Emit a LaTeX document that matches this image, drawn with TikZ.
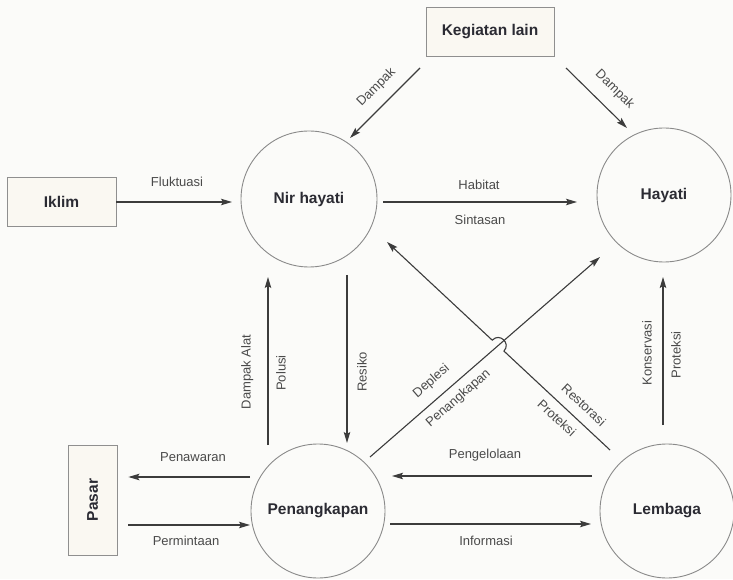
\documentclass[tikz,border=0pt]{standalone}
\usepackage{fontspec}
\usepackage{graphicx}
\setmainfont{Liberation Sans}
\usetikzlibrary{calc,arrows.meta,intersections}
\definecolor{linec}{HTML}{3C3C3C}
\definecolor{circc}{HTML}{8A8A8A}
\definecolor{boxc}{HTML}{8F8F8F}
\definecolor{labc}{HTML}{4A4A4A}
\definecolor{titc}{HTML}{2B2B33}
\definecolor{bgc}{HTML}{FBFBF9}
\definecolor{boxfill}{HTML}{FAF8F2}
\begin{document}
\begin{tikzpicture}[x=1pt,y=1pt,
  title/.style={font=\fontsize{15.5}{18}\selectfont\bfseries, text=titc},
  circnode/.style={circle, draw=circc, line width=0.9pt, minimum size=134pt, inner sep=0pt, title},
  boxnode/.style={rectangle, draw=boxc, line width=0.9pt, fill=boxfill, inner sep=0pt, title},
  lab/.style={font=\fontsize{13}{15}\selectfont, text=labc, inner sep=0pt, text height=0.72em, text depth=0.21em},
  arr/.style={draw=linec, line width=1.1pt, -{Stealth[length=11pt,width=6.5pt,inset=2pt]}}
]
\fill[bgc] (0,0) rectangle (733,579);
\useasboundingbox (0,0) rectangle (733,579);

% nodes
\node[circnode, minimum size=136pt] (nir) at (309,380) {Nir hayati};
\node[circnode] (hay) at (664,384) {Hayati};
\node[circnode] (pen) at (318,68) {Penangkapan};
\node[circnode] (lem) at (667,68) {Lembaga};
\node[boxnode, minimum width=128pt, minimum height=49pt] (keg) at (490,547.5) {Kegiatan lain};
\node[boxnode, minimum width=109pt, minimum height=49pt] (ikl) at (61.5,377) {Iklim};
\node[boxnode, minimum width=49pt, minimum height=110pt] (pas) at (92.5,79) {\rotatebox{90}{Pasar}};

% connectors
\draw[arr] ($(keg.center)+(-70,-36.5)$) -- ($(nir.center)+(41,61)$);
\draw[arr] ($(keg.center)+(76,-36.5)$) -- ($(hay.center)+(-37,67)$);
\draw[arr] (ikl.east) -- ($(nir.center)+(-77,-3)$);
\draw[arr] ($(nir.center)+(74,-3)$) -- ($(hay.center)+(-87,-7)$);
\draw[arr] ($(pen.center)+(-50,66)$) -- ($(nir.center)+(-41,-78)$);
\draw[arr] ($(nir.center)+(38,-76)$) -- ($(pen.center)+(29,68)$);
\draw[arr] ($(pen.center)+(-68,34)$) coordinate (pwS) -- ([xshift=11pt]pas.east |- pwS);
\draw[arr] ([xshift=11pt]pas.east |- 0,54) -- ($(pen.center)+(-68,-14)$);
\draw[arr] ($(lem.center)+(-75,35)$) -- ($(pen.center)+(74,35)$);
\draw[arr] ($(pen.center)+(72,-13)$) -- ($(lem.center)+(-76,-13)$);
\draw[arr] ($(lem.center)+(-4,86)$) -- ($(hay.center)+(-1,-82)$);

\coordinate (rS) at ($(lem.center)+(-57,61)$);
\coordinate (rE) at ($(nir.center)+(78,-43)$);
\coordinate (dS) at ($(pen.center)+(52,54)$);
\coordinate (dE) at ($(hay.center)+(-64,-62)$);
\path[name path=dpath] (dS) -- (dE);
\path[name path=rpath] (rS) -- (rE);
\path[name intersections={of=dpath and rpath, by=X}];
\coordinate (h1) at ($(X)!8pt!(rS)$);
\coordinate (h2) at ($(X)!8pt!(rE)$);
\draw[arr] (dS) -- (dE);
\draw[arr] (rS) -- (h1) .. controls ($(h1)!10.7pt!-90:(X)$) and ($(h2)!10.7pt!90:(X)$) .. (h2) -- (rE);

% labels
\node[lab, rotate=45] at (377,491) {Dampak};
\node[lab, rotate=-44.5] at (614,489) {Dampak};
\node[lab] at (177,395.5) {Fluktuasi};
\node[lab] at (479,392) {Habitat};
\node[lab] at (480,357) {Sintasan};
\node[lab, rotate=90] at (248,207) {Dampak Alat};
\node[lab, rotate=90] at (283,206) {Polusi};
\node[lab, rotate=90] at (364,207) {Resiko};
\node[lab, rotate=41] at (432,197) {Deplesi};
\node[lab, rotate=41] at (459,180) {Penangkapan};
\node[lab, rotate=-43] at (582.5,172.5) {Restorasi};
\node[lab, rotate=-43] at (555.5,159.5) {Proteksi};
\node[lab, rotate=90] at (649,226) {Konservasi};
\node[lab, rotate=90] at (678,224) {Proteksi};
\node[lab] at (193,120) {Penawaran};
\node[lab] at (186,36) {Permintaan};
\node[lab] at (485,123) {Pengelolaan};
\node[lab] at (486,36) {Informasi};
\end{tikzpicture}
\end{document}
